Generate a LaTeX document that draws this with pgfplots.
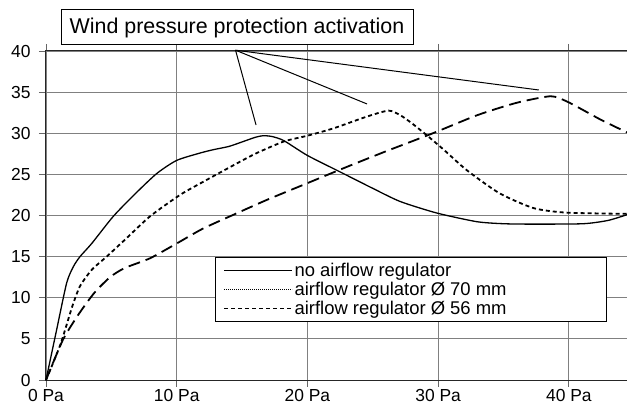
\documentclass[border=0pt]{standalone}
\usepackage{pgfplots}
\pgfplotsset{compat=1.18}
\usepackage{fontspec}
\setmainfont{Liberation Sans}
\begin{document}
\begin{tikzpicture}
\begin{axis}[
 at={(0,0)}, anchor=south west,
 scale only axis, width=581bp, height=329bp,
 xmin=0, xmax=44.45, ymin=0, ymax=40,
 xtick={0,10,20,30,40}, ytick={0,5,...,40},
 xticklabel={\fontsize{17.5}{17.5}\selectfont\pgfmathprintnumber{\tick}~Pa},
 yticklabel={\fontsize{17.5}{17.5}\selectfont\pgfmathprintnumber{\tick}},
 /pgf/number format/assume math mode=true,
 grid=major, major grid style={color=black!50, line width=0.8bp},
 axis line style={black!85, line width=1bp},
 tick style={black!60, line width=0.8bp},
 tick align=outside, major tick length=7bp,
 yticklabel style={xshift=-5bp},
 xticklabel style={yshift=1.5bp},
 clip=false,
 legend style={at={(rel axis cs:0.291,0.374)}, anchor=north west, draw=black, line width=1bp,
   font=\fontsize{18.5}{20}\selectfont, inner xsep=8bp, inner ysep=4bp, row sep=0bp},
 legend cell align=left,
 legend image code/.code={\draw[#1] (0bp,0bp) -- (68bp,0bp);},
]
\addlegendimage{black, line width=1bp, solid}
\addlegendentry{no airflow regulator}
\addlegendimage{black, line width=0.8bp, dash pattern=on 1bp off 1bp}
\addlegendentry{airflow regulator Ø 70 mm}
\addlegendimage{black, line width=1bp, dash pattern=on 4bp off 3bp}
\addlegendentry{\makebox[302bp][l]{airflow regulator Ø 56 mm}}

\addplot[black, line width=1.3bp, smooth, tension=0.4, forget plot] coordinates {
(0,0)(0.8,6)(1.58,11.8)(2.1,13.8)(2.6,15)(3.5,16.6)(5.15,19.9)(6.8,22.6)(8.47,25.1)(10,26.7)(11.8,27.6)(12.8,28.0)(14,28.4)(15.1,29)(16,29.5)(16.6,29.7)(17.3,29.6)(18.2,29.1)(20,27.3)(22.5,25.3)(25,23.3)(27.1,21.7)(29.9,20.3)(32.95,19.25)(35,19.0)(37.3,18.95)(41.1,19.0)(43,19.4)(44.45,20.1)
};
\addplot[black, line width=1.8bp, dash pattern=on 4bp off 3bp, smooth, tension=0.4, forget plot] coordinates {
(0,0)(1.1,4.3)(2.0,8.9)(2.6,11.4)(3.5,13.4)(4.64,15)(6,17)(7.96,19.9)(10.25,22.5)(11.8,23.9)(14.1,25.9)(16,27.5)(18.2,29.0)(20,29.7)(22,30.6)(24.5,32.0)(26.2,32.75)(27.1,32.2)(28,31.2)(29.1,29.8)(30.5,27.9)(32.2,25.5)(34.7,22.7)(37.3,20.9)(39.8,20.35)(44.45,20.2)
};
\addplot[black, line width=1.8bp, dash pattern=on 12bp off 6bp, smooth, tension=0.4, forget plot] coordinates {
(0,0)(1.3,4.9)(2.5,8.0)(3.7,10.6)(4.9,12.5)(6,13.6)(7.96,14.8)(10,16.6)(12,18.4)(14.3,20.06)(16.9,21.9)(19.95,23.9)(23,25.9)(26,27.8)(29.6,30.0)(33,32.2)(36,33.7)(38.6,34.5)(39.8,33.9)(41,32.9)(42.5,31.6)(44.45,30.1)
};
\draw[black, line width=1bp] (axis cs:14.5,40.1) -- (axis cs:16.07,31.0);
\draw[black, line width=1bp] (axis cs:14.5,40.1) -- (axis cs:24.56,33.56);
\draw[black, line width=1bp] (axis cs:14.5,40.1) -- (axis cs:37.7,35.26);
\end{axis}
\node[draw=black, line width=1bp, minimum width=352bp, minimum height=35bp, inner sep=0pt,
  font=\fontsize{21.5}{24}\selectfont] at (191bp,352.5bp) {Wind pressure protection activation};
\pgfresetboundingbox
\path[use as bounding box] (-46bp,-27bp) rectangle (581bp,380bp);
\end{tikzpicture}
\end{document}
